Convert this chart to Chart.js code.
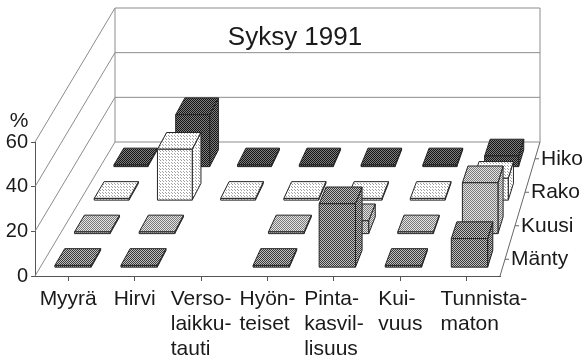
<!DOCTYPE html>
<html>
<head>
<meta charset="utf-8">
<script src="https://cdn.jsdelivr.net/npm/chart.js@4.4.1/dist/chart.umd.min.js"></script>
<style>
  html, body { margin: 0; padding: 0; background: #fff; }
</style>
</head>
<body>
<canvas id="chart" width="584" height="362"></canvas>
<script>
// damage causes, autumn 1991 (% of trees)
const categories = [
  ['Myyrä'],
  ['Hirvi'],
  ['Verso-', 'laikku-', 'tauti'],
  ['Hyön-', 'teiset'],
  ['Pinta-', 'kasvil-', 'lisuus'],
  ['Kui-', 'vuus'],
  ['Tunnista-', 'maton']
];
const seriesNames = ['Mänty', 'Kuusi', 'Rako', 'Hiko'];
const manty = [1, 1, 0, 1, 28.6, 1, 13];
const kuusi = [1, 1, 0, 1, 6, 1, 23];
const rako = [1, 23, 1, 1, 1, 1, 10];
const hiko = [1, 23.5, 1, 1, 1, 1, 5];
const yTicks = [0, 20, 40, 60];
const titleText = 'Syksy 1991';
const unitText = '%';

const FONT = "'Liberation Sans', Arial, sans-serif";
const DEPTH_LEFT = 80;   // how far the back wall is shifted right at the left edge
const DEPTH_RIGHT = 40;  // ... and at the right edge
const ROW = 1 / seriesNames.length;

// small halftone cells like the printed original
function screen(size, ink, paper, dots) {
  const c = document.createElement('canvas');
  c.width = c.height = size;
  const g = c.getContext('2d');
  g.fillStyle = paper;
  g.fillRect(0, 0, size, size);
  g.fillStyle = ink;
  dots.forEach(([x, y]) => g.fillRect(x, y, 1, 1));
  return g.createPattern(c, 'repeat');
}

const checker = [[0, 0], [1, 1]];
const fills = [
  screen(2, '#383838', '#c2c2c2', checker),
  screen(2, '#7a7a7a', '#e4e4e4', checker),
  screen(3, '#a0a0a0', '#ffffff', [[0, 0], [1, 1]]),
  screen(2, '#141414', '#7e7e7e', checker)
];

// oblique view: t = 0 is the front edge of the floor, t = 1 the back wall
function project(area, x, y, t) {
  const k = (x - area.left) / (area.right - area.left);
  const shift = DEPTH_LEFT + (DEPTH_RIGHT - DEPTH_LEFT) * k;
  return [x + t * shift, y - t * (area.bottom - area.top)];
}

function poly(ctx, pts, fill) {
  ctx.beginPath();
  ctx.moveTo(pts[0][0], pts[0][1]);
  for (let i = 1; i < pts.length; i++) ctx.lineTo(pts[i][0], pts[i][1]);
  ctx.closePath();
  ctx.fillStyle = fill;
  ctx.fill();
  ctx.stroke();
}

function line(ctx, a, b) {
  ctx.beginPath();
  ctx.moveTo(a[0], a[1]);
  ctx.lineTo(b[0], b[1]);
  ctx.stroke();
}

const depthPlugin = {
  id: 'depthPlugin',
  beforeDatasetsDraw(chart) {
    const { ctx, chartArea: area, scales } = chart;
    const ys = scales.y;
    ctx.save();
    ctx.lineWidth = 1;
    ctx.strokeStyle = '#8c8c8c';

    // side wall, back wall and floor
    yTicks.forEach(v => {
      const y = ys.getPixelForValue(v);
      const back = project(area, area.left, y, 1);
      line(ctx, [area.left, y], back);
      line(ctx, back, project(area, area.right, y, 1));
    });
    const y0 = ys.getPixelForValue(0);
    const yTop = ys.getPixelForValue(yTicks[yTicks.length - 1]);
    line(ctx, project(area, area.left, y0, 1), project(area, area.left, yTop, 1));
    line(ctx, project(area, area.right, y0, 1), project(area, area.right, yTop, 1));
    ctx.strokeStyle = '#666';
    line(ctx, [area.right, y0], project(area, area.right, y0, 1));

    // small ticks for the series rows on the right floor edge
    seriesNames.forEach((name, i) => {
      const p = project(area, area.right, y0, i * ROW + ROW / 2);
      line(ctx, p, [p[0] + 4, p[1]]);
    });
    ctx.restore();
  },
  afterDatasetsDraw(chart) {
    const { ctx, chartArea: area } = chart;
    ctx.save();
    ctx.lineWidth = 1;
    ctx.strokeStyle = '#262626';
    ctx.lineJoin = 'round';
    // back rows first so the front rows cover them
    for (let i = chart.data.datasets.length - 1; i >= 0; i--) {
      const meta = chart.getDatasetMeta(i);
      const t0 = i * ROW + ROW * 0.25;
      const t1 = i * ROW + ROW * 0.75;
      meta.data.forEach((bar, j) => {
        if (!chart.data.datasets[i].data[j]) return;
        const xl = bar.x - bar.width / 2;
        const xr = bar.x + bar.width / 2;
        const top = bar.y, base = bar.base;
        const fill = fills[i];
        poly(ctx, [
          project(area, xr, top, t0), project(area, xr, top, t1),
          project(area, xr, base, t1), project(area, xr, base, t0)
        ], fill);
        poly(ctx, [
          project(area, xl, top, t0), project(area, xr, top, t0),
          project(area, xr, top, t1), project(area, xl, top, t1)
        ], fill);
        poly(ctx, [
          project(area, xl, top, t0), project(area, xr, top, t0),
          project(area, xr, base, t0), project(area, xl, base, t0)
        ], fill);
      });
    }
    ctx.restore();
  },
  afterDraw(chart) {
    const { ctx, chartArea: area, scales } = chart;
    const y0 = scales.y.getPixelForValue(0);
    ctx.save();
    ctx.fillStyle = '#1a1a1a';
    ctx.font = '21px ' + FONT;

    // category labels: each block centred on its tick, lines left aligned;
    // a block that would touch its neighbour is pushed clear of it
    ctx.textAlign = 'left';
    ctx.textBaseline = 'alphabetic';
    let prevEnd = -Infinity;
    categories.forEach((lines, j) => {
      const x = scales.x.getPixelForValue(j);
      const w = Math.max(...lines.map(s => ctx.measureText(s).width));
      let start = x - w / 2;
      if (start < prevEnd + 4) start = prevEnd + 18;
      lines.forEach((s, k) => ctx.fillText(s, start, area.bottom + 29 + k * 25));
      prevEnd = start + w;
    });

    // series names along the right floor edge
    ctx.textBaseline = 'middle';
    seriesNames.forEach((name, i) => {
      const p = project(area, area.right, y0, i * ROW + ROW / 2);
      ctx.fillText(name, p[0] + 6, p[1]);
    });

    ctx.textAlign = 'center';
    ctx.textBaseline = 'alphabetic';
    ctx.fillText(unitText, 19, area.top - 15);

    ctx.font = '26px ' + FONT;
    ctx.fillText(titleText, 295, 45);
    ctx.restore();
  }
};

new Chart(document.getElementById('chart'), {
  type: 'bar',
  data: {
    labels: categories,
    datasets: [manty, kuusi, rako, hiko].map((data, i) => ({
      label: seriesNames[i],
      data: data,
      backgroundColor: 'rgba(0,0,0,0)',
      borderWidth: 0,
      grouped: false,
      barPercentage: 0.55,
      categoryPercentage: 1
    }))
  },
  options: {
    responsive: false,
    animation: false,
    layout: { padding: { top: 142, right: 84, left: 0, bottom: 0 } },
    plugins: { legend: { display: false }, tooltip: { enabled: false } },
    scales: {
      x: {
        grid: { offset: false, drawOnChartArea: false, tickLength: 5, color: '#555' },
        border: { color: '#555' },
        ticks: { display: false },
        afterFit: s => { s.height = 86; }
      },
      y: {
        min: 0,
        max: 60,
        ticks: { stepSize: 20, padding: 3, color: '#1a1a1a', font: { size: 20, family: FONT } },
        grid: { drawOnChartArea: false, tickLength: 4, color: '#555' },
        border: { color: '#555' },
        afterFit: s => { s.width = 35; }
      }
    }
  },
  plugins: [depthPlugin]
});
</script>
</body>
</html>
